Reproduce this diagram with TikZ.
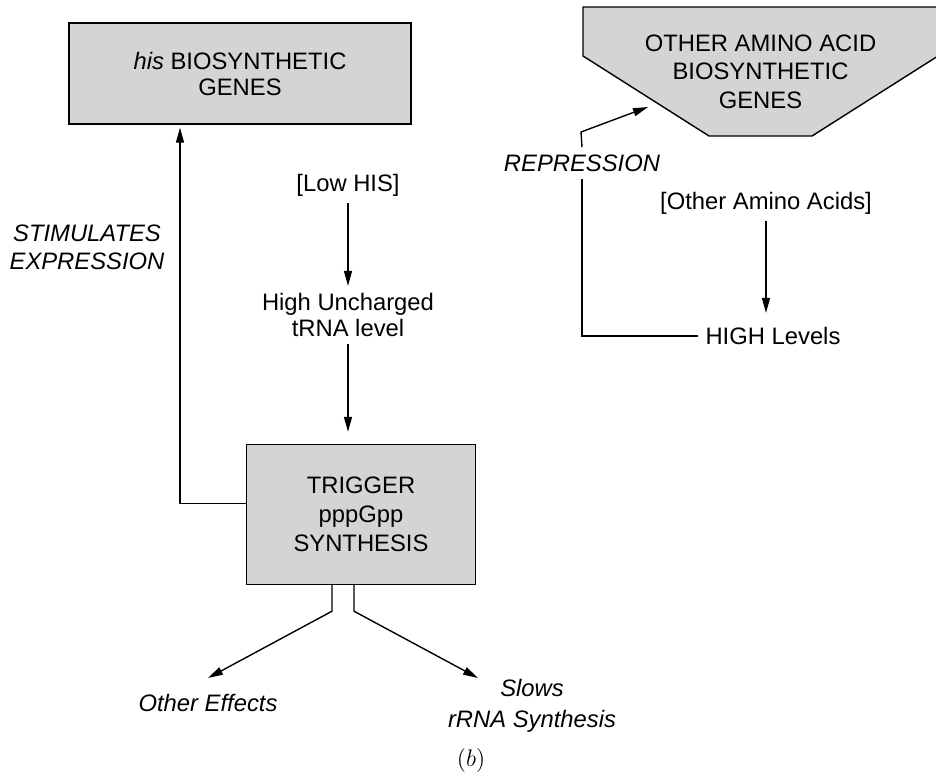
\documentclass[tikz,border=0pt]{standalone}
\usepackage{fontspec}
\setmainfont{Liberation Sans}
\usetikzlibrary{positioning,arrows.meta}

\begin{document}
\begin{tikzpicture}[x=0.5pt, y=-0.5pt, line width=0.7pt,
	>={Triangle[length=7.5pt,width=4pt]},
	every node/.style = {font=\fontsize{11.9}{13}\selectfont},
	main/.style = {draw, fill=black!17, align=center},
	txt/.style = {align=center},
	effect/.style = {align=center, font=\fontsize{11.9}{14}\selectfont\itshape}]
	\useasboundingbox (0,0) rectangle (936,776);

	%% Boxes
	\filldraw[fill=black!17] (583,7) -- (583,56) -- (709,136) -- (812,136) -- (938,56) -- (938,7) -- cycle;
	\node[main, minimum width=171pt, minimum height=50.5pt] (1) at (240,73.5) {\textit{his} BIOSYNTHETIC\\GENES};
	\node[main, minimum width=114.5pt, minimum height=70pt, font=\fontsize{11.9}{14.6}\selectfont] (4) at (361,514.5) {TRIGGER\\pppGpp\\SYNTHESIS};
	\node[txt, font=\fontsize{11.9}{14.3}\selectfont] (6) at (760.5,71.5) {OTHER AMINO ACID\\BIOSYNTHETIC\\GENES};

	%% Nodes
	\node[txt] (2) at (348,185) {[Low HIS]};
	\node[txt][below of=2, node distance=65pt] (3) {High Uncharged\\tRNA level};
	\node[effect] (5) at (87,247) {STIMULATES\\EXPRESSION};
	\node[effect] (7) at (582,163) {REPRESSION};
	\node[txt] (8) at (766,203) {[Other Amino Acids]};
	\node[txt] (9) at (773,336) {HIGH Levels};
	\node[effect] (10) at (208,703) {Other Effects};
	\node[effect, font=\fontsize{11.9}{15.5}\selectfont\itshape] (11) at (532,706) {Slows\\rRNA Synthesis};
	\node[font=\fontsize{12}{14}\selectfont] (12) at (471,760) {$(b)$};

	\coordinate (bend) at (581,132);
	\coordinate (reptip) at (648,107);
	\coordinate (efftip) at (208,678);
	\coordinate (slowtip) at (478,678);

	%% Edges
	\draw[->] (2) -- (3);
	\draw[->, shorten >=6pt] (3.south) -- (3.south |- 4.north);
	\draw[->, shorten >=1.5pt] ([yshift=5.5pt]4.west) -| ([xshift=-30pt]1.south);
	\draw (9.west) -| (7.south);
	\draw[->] (7.north) -- (bend) -- (reptip);
	\draw[->, shorten >=3.5pt] (8.south) -- (8.south |- 9.north);
	\draw[->] ([xshift=-14.5pt]4.south) -- ++(0,26) -- (efftip);
	\draw[->] ([xshift=-3.5pt]4.south) -- ++(0,26) -- (slowtip);

\end{tikzpicture}
\end{document}
